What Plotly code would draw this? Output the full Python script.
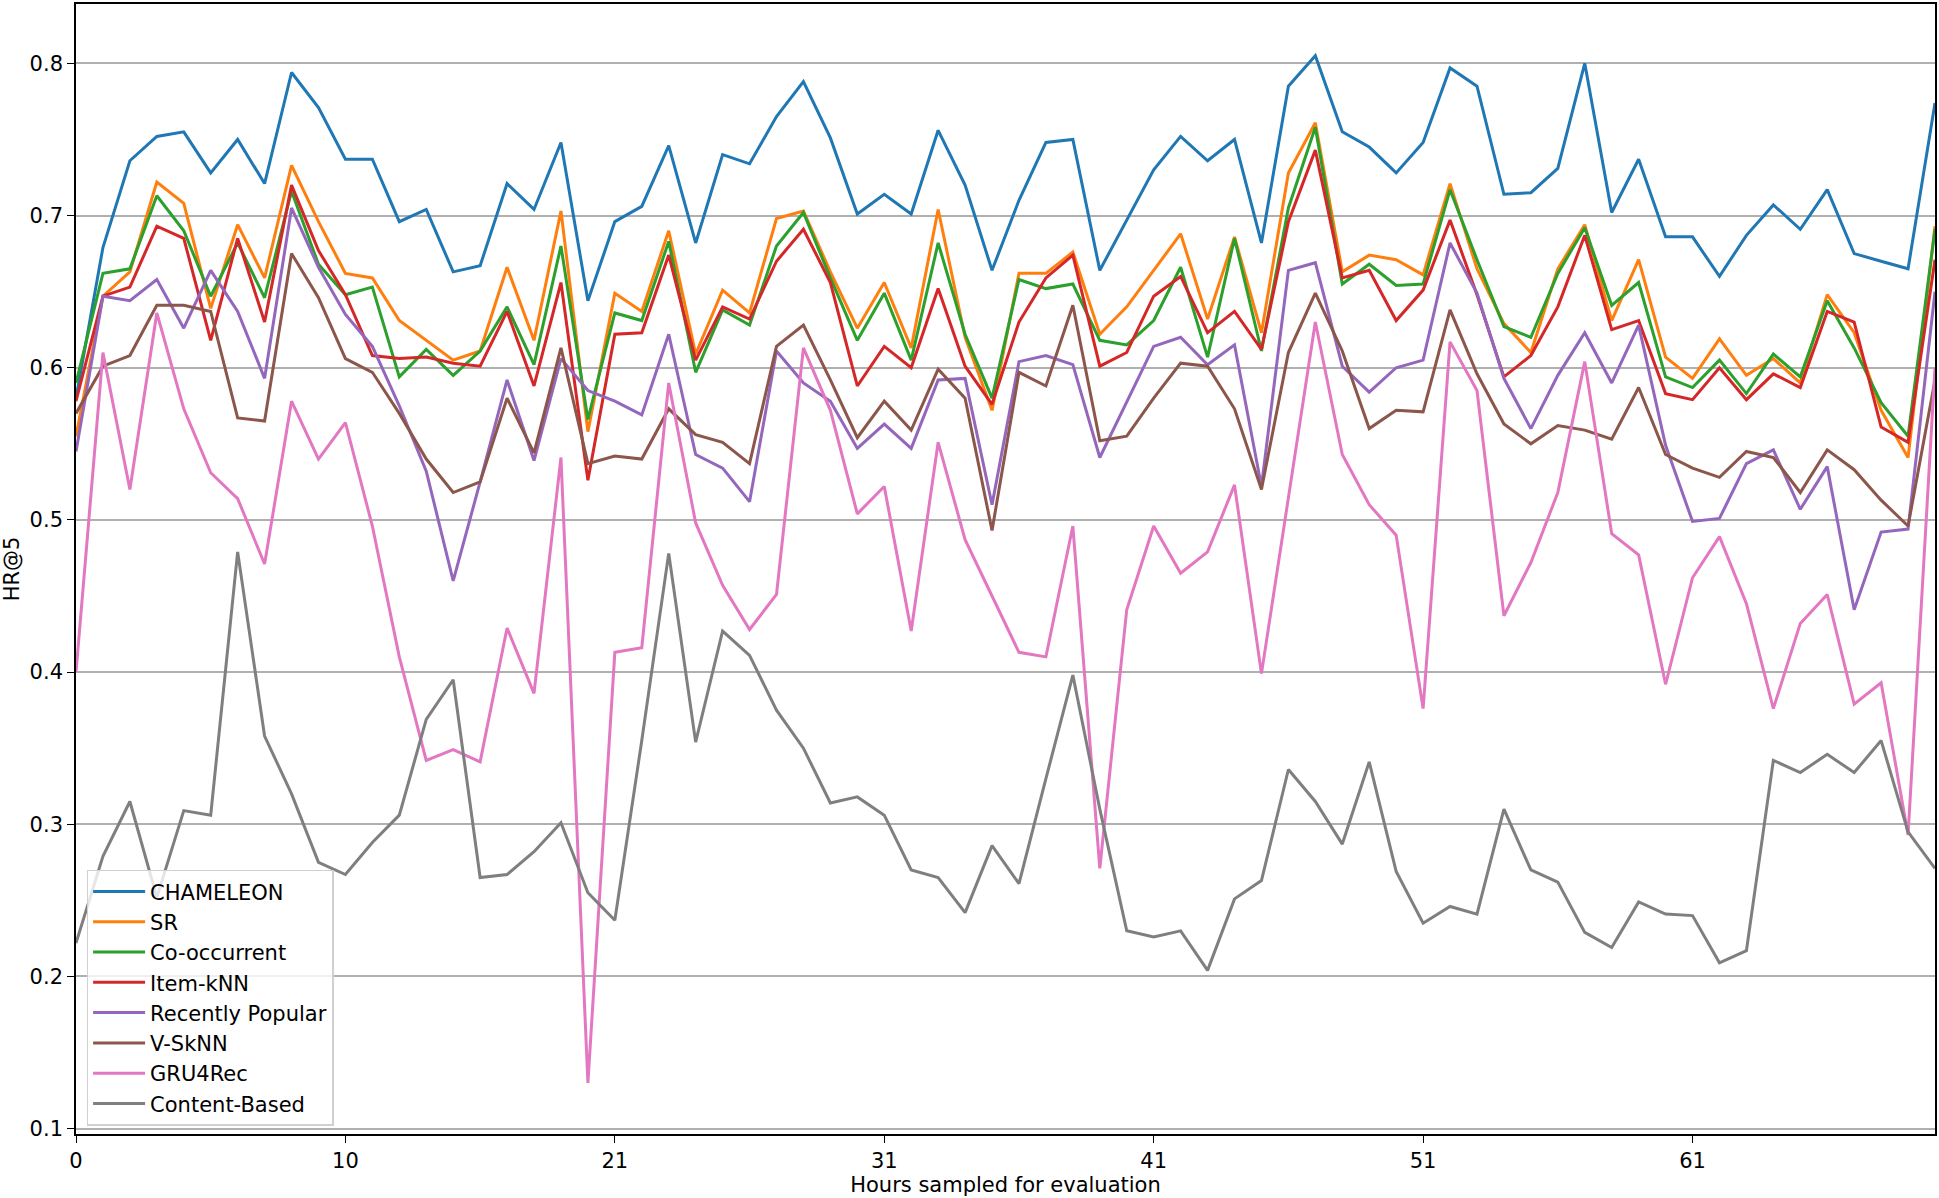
import plotly.graph_objects as go

# sample index (hours sampled for evaluation, 70 samples)
sample_idx = list(range(70))
tick_positions = [0, 10, 20, 30, 40, 50, 60]
tick_labels = ["0", "10", "21", "31", "41", "51", "61"]
y_ticks = [0.1, 0.2, 0.3, 0.4, 0.5, 0.6, 0.7, 0.8]

chameleon = [0.580, 0.679, 0.736, 0.752, 0.755, 0.728, 0.750, 0.721, 0.794, 0.771,
             0.737, 0.737, 0.696, 0.704, 0.663, 0.667, 0.721, 0.704, 0.748, 0.644,
             0.696, 0.706, 0.746, 0.682, 0.740, 0.734, 0.765, 0.788, 0.751, 0.701,
             0.714, 0.701, 0.756, 0.720, 0.664, 0.710, 0.748, 0.750, 0.664, 0.697,
             0.730, 0.752, 0.736, 0.750, 0.682, 0.785, 0.805, 0.755, 0.745, 0.728,
             0.748, 0.797, 0.785, 0.714, 0.715, 0.731, 0.800, 0.702, 0.737, 0.686,
             0.686, 0.660, 0.687, 0.707, 0.691, 0.717, 0.675, 0.670, 0.665, 0.774]

sr = [0.555, 0.647, 0.663, 0.722, 0.708, 0.639, 0.694, 0.659, 0.733, 0.696,
      0.662, 0.659, 0.631, 0.618, 0.605, 0.611, 0.666, 0.618, 0.703, 0.558,
      0.649, 0.637, 0.690, 0.609, 0.651, 0.636, 0.698, 0.703, 0.663, 0.626,
      0.656, 0.613, 0.704, 0.620, 0.572, 0.662, 0.662, 0.676, 0.622, 0.640,
      0.664, 0.688, 0.632, 0.686, 0.623, 0.728, 0.761, 0.663, 0.674, 0.671,
      0.661, 0.721, 0.665, 0.629, 0.610, 0.665, 0.694, 0.631, 0.671, 0.607,
      0.593, 0.619, 0.595, 0.606, 0.590, 0.648, 0.623, 0.572, 0.541, 0.693]

co_occurrent = [0.590, 0.662, 0.665, 0.713, 0.690, 0.647, 0.682, 0.646, 0.716, 0.668,
                0.648, 0.653, 0.594, 0.612, 0.595, 0.611, 0.640, 0.602, 0.680, 0.566,
                0.636, 0.631, 0.683, 0.597, 0.638, 0.628, 0.680, 0.702, 0.659, 0.618,
                0.649, 0.605, 0.682, 0.622, 0.580, 0.658, 0.652, 0.655, 0.618, 0.615,
                0.631, 0.666, 0.607, 0.685, 0.611, 0.705, 0.758, 0.655, 0.668, 0.654,
                0.655, 0.717, 0.671, 0.627, 0.620, 0.662, 0.692, 0.641, 0.656, 0.594,
                0.587, 0.605, 0.583, 0.609, 0.594, 0.644, 0.613, 0.577, 0.555, 0.691]

item_knn = [0.578, 0.647, 0.653, 0.693, 0.685, 0.618, 0.685, 0.630, 0.720, 0.677,
            0.648, 0.608, 0.606, 0.607, 0.603, 0.601, 0.637, 0.588, 0.656, 0.526,
            0.622, 0.623, 0.674, 0.605, 0.640, 0.632, 0.670, 0.691, 0.656, 0.588,
            0.614, 0.600, 0.652, 0.601, 0.576, 0.630, 0.659, 0.674, 0.601, 0.610,
            0.647, 0.660, 0.623, 0.637, 0.612, 0.696, 0.743, 0.659, 0.664, 0.631,
            0.651, 0.697, 0.648, 0.594, 0.608, 0.640, 0.687, 0.625, 0.631, 0.583,
            0.579, 0.600, 0.579, 0.596, 0.587, 0.637, 0.630, 0.561, 0.551, 0.671]

recently_popular = [0.545, 0.647, 0.644, 0.658, 0.626, 0.664, 0.637, 0.593, 0.705, 0.666,
                    0.635, 0.614, 0.575, 0.532, 0.460, 0.525, 0.592, 0.539, 0.606, 0.585,
                    0.578, 0.569, 0.622, 0.543, 0.534, 0.512, 0.611, 0.590, 0.578, 0.547,
                    0.563, 0.547, 0.592, 0.593, 0.510, 0.604, 0.608, 0.602, 0.541, 0.578,
                    0.614, 0.620, 0.602, 0.615, 0.522, 0.664, 0.669, 0.601, 0.584, 0.600,
                    0.605, 0.682, 0.649, 0.593, 0.560, 0.595, 0.623, 0.590, 0.628, 0.549,
                    0.499, 0.501, 0.537, 0.546, 0.507, 0.535, 0.441, 0.492, 0.494, 0.650]

v_sknn = [0.570, 0.601, 0.608, 0.641, 0.641, 0.637, 0.567, 0.565, 0.675, 0.646,
          0.606, 0.597, 0.570, 0.540, 0.518, 0.525, 0.580, 0.544, 0.613, 0.537,
          0.542, 0.540, 0.573, 0.556, 0.551, 0.537, 0.614, 0.628, 0.592, 0.554,
          0.578, 0.559, 0.599, 0.580, 0.493, 0.597, 0.588, 0.641, 0.552, 0.555,
          0.580, 0.603, 0.601, 0.573, 0.520, 0.610, 0.649, 0.611, 0.560, 0.572,
          0.571, 0.638, 0.596, 0.563, 0.550, 0.562, 0.559, 0.553, 0.587, 0.543,
          0.534, 0.528, 0.545, 0.541, 0.518, 0.546, 0.533, 0.513, 0.496, 0.592]

gru4rec = [0.400, 0.610, 0.520, 0.636, 0.573, 0.531, 0.514, 0.471, 0.578, 0.540,
           0.564, 0.496, 0.410, 0.342, 0.349, 0.341, 0.429, 0.386, 0.541, 0.130,
           0.413, 0.416, 0.590, 0.498, 0.457, 0.428, 0.451, 0.613, 0.572, 0.504,
           0.522, 0.427, 0.551, 0.487, 0.450, 0.413, 0.410, 0.496, 0.271, 0.441,
           0.496, 0.465, 0.479, 0.523, 0.399, 0.515, 0.630, 0.543, 0.510, 0.490,
           0.376, 0.617, 0.585, 0.437, 0.472, 0.518, 0.604, 0.491, 0.477, 0.392,
           0.462, 0.489, 0.445, 0.376, 0.432, 0.451, 0.379, 0.393, 0.293, 0.600]

content_based = [0.222, 0.279, 0.315, 0.252, 0.309, 0.306, 0.479, 0.358, 0.320, 0.275,
                 0.267, 0.288, 0.306, 0.369, 0.395, 0.265, 0.267, 0.282, 0.301, 0.255,
                 0.237, 0.355, 0.478, 0.354, 0.427, 0.411, 0.375, 0.350, 0.314, 0.318,
                 0.306, 0.270, 0.265, 0.242, 0.286, 0.261, 0.330, 0.398, 0.310, 0.230,
                 0.226, 0.230, 0.204, 0.251, 0.263, 0.336, 0.315, 0.287, 0.341, 0.269,
                 0.235, 0.246, 0.241, 0.310, 0.270, 0.262, 0.229, 0.219, 0.249, 0.241,
                 0.240, 0.209, 0.217, 0.342, 0.334, 0.346, 0.334, 0.355, 0.295, 0.271]

series_names = ["CHAMELEON", "SR", "Co-occurrent", "Item-kNN", "Recently Popular",
                "V-SkNN", "GRU4Rec", "Content-Based"]
series_values = [chameleon, sr, co_occurrent, item_knn, recently_popular,
                 v_sknn, gru4rec, content_based]
colors = ["#1f77b4", "#ff7f0e", "#2ca02c", "#d62728", "#9467bd",
          "#8c564b", "#e377c2", "#7f7f7f"]

fig = go.Figure()
for name, vals, col in zip(series_names, series_values, colors):
    fig.add_trace(go.Scatter(x=sample_idx, y=vals, mode="lines", name=name,
                             line=dict(color=col, width=3)))

fig.update_layout(
    width=1939, height=1198,
    paper_bgcolor="white", plot_bgcolor="white",
    margin=dict(l=76, r=2, t=3, b=64),
    font=dict(family="DejaVu Sans", size=21, color="black"),
    showlegend=True,
    legend=dict(x=0.0057, y=0.0073, xanchor="left", yanchor="bottom",
                bgcolor="rgba(255,255,255,0.8)", bordercolor="#d0d0d0",
                borderwidth=1.5, font=dict(size=21), tracegroupgap=0,
                itemwidth=52),
    xaxis=dict(range=[0, 69], tickvals=tick_positions, ticktext=tick_labels,
               showgrid=False, zeroline=False, showline=True, mirror=True,
               linecolor="black", linewidth=1.6, ticks="outside", ticklen=7,
               tickwidth=1.4, tickcolor="black",
               title=dict(text="Hours sampled for evaluation", standoff=3,
                          font=dict(size=21))),
    yaxis=dict(range=[0.0965, 0.839], tickvals=y_ticks,
               ticktext=[f"{v:.1f}" for v in y_ticks],
               showgrid=True, gridcolor="#b0b0b0", gridwidth=1.5,
               zeroline=False, showline=True, mirror=True,
               linecolor="black", linewidth=1.6, ticks="outside", ticklen=7,
               tickwidth=1.4, tickcolor="black",
               title=dict(text="HR@5", standoff=8, font=dict(size=21))),
)

fig.write_html(
    "out.html",
    config={"displayModeBar": False},
    post_script="document.body.style.margin='0';document.body.style.overflow='hidden';",
)
